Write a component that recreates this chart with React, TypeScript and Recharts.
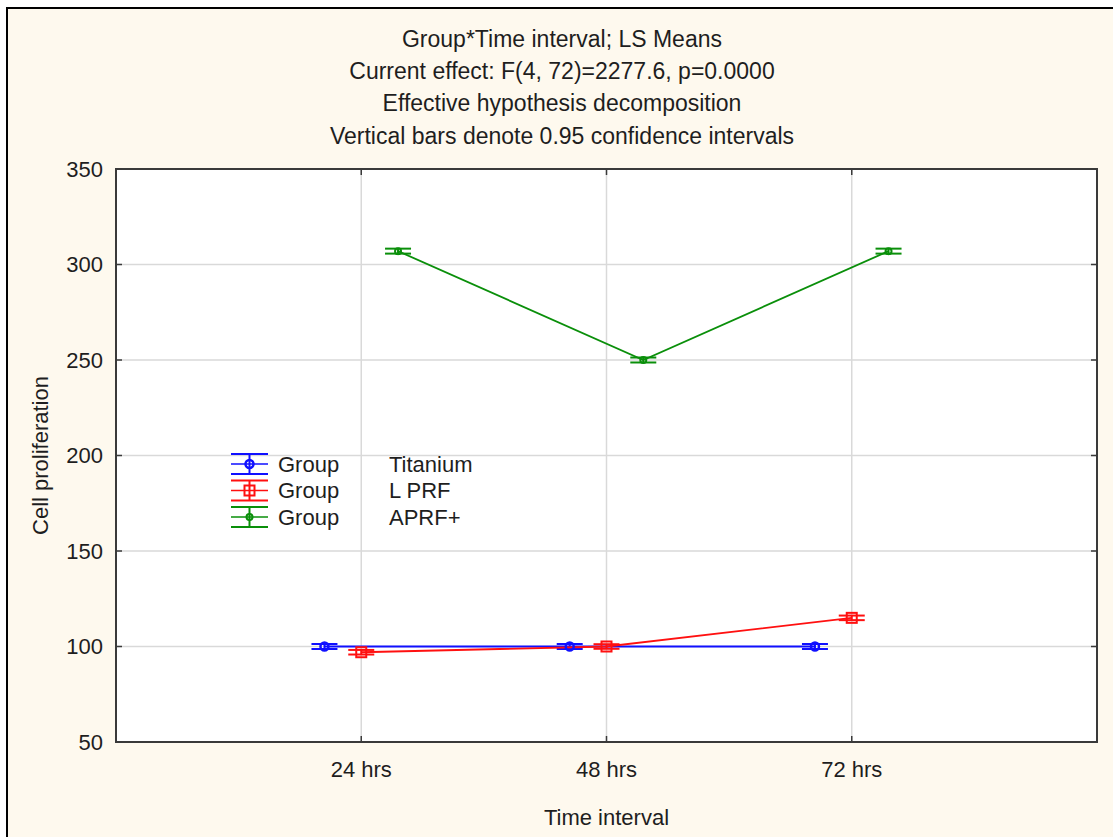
import { CartesianGrid, ErrorBar, Legend, Line, LineChart, ReferenceArea, XAxis, YAxis } from 'recharts'

const TIMES = ['24 hrs', '48 hrs', '72 hrs']
const TITANIUM = [100, 100, 100]
const TITANIUM_CI = [1.3, 1.3, 1.3]
const LPRF = [97, 100, 115]
const LPRF_CI = [1.2, 1.2, 1.2]
const APRF = [307, 250, 307]
const APRF_CI = [1.3, 1.3, 1.3]
const Y_TICKS = [50, 100, 150, 200, 250, 300, 350]
const TITLE = [
  'Group*Time interval; LS Means',
  'Current effect: F(4, 72)=2277.6, p=0.0000',
  'Effective hypothesis decomposition',
  'Vertical bars denote 0.95 confidence intervals',
]

const FONT = '"Liberation Sans", Arial, sans-serif'
const INK = '#1e1e1e'
const FRAME = '#3a3a3a'

type Shape = 'circle' | 'square' | 'dot'

// groups are nudged sideways around each time point, like Statistica does
const SERIES: Array<{ name: string; color: string; shape: Shape; shift: number; values: number[]; ci: number[] }> = [
  { name: 'Titanium', color: '#1010ff', shape: 'circle', shift: -0.15, values: TITANIUM, ci: TITANIUM_CI },
  { name: 'L PRF', color: '#ff1010', shape: 'square', shift: 0, values: LPRF, ci: LPRF_CI },
  { name: 'APRF+', color: '#0a8f0a', shape: 'dot', shift: 0.15, values: APRF, ci: APRF_CI },
]

function Marker({ cx, cy, color, shape }: { cx: number; cy: number; color: string; shape: Shape }) {
  if (shape === 'square') return <rect x={cx - 5} y={cy - 5} width={10} height={10} fill="none" stroke={color} strokeWidth={2} />
  if (shape === 'circle') return <circle cx={cx} cy={cy} r={4} fill="none" stroke={color} strokeWidth={2.5} />
  return <circle cx={cx} cy={cy} r={3} fill="none" stroke={color} strokeWidth={2} />
}

// tick marks point into the plot on all four sides
const XTick = ({ x, y, payload }: any) => (
  <g>
    <line x1={x} x2={x} y1={y} y2={y - 6} stroke={FRAME} strokeWidth={1.5} />
    <line x1={x} x2={x} y1={160} y2={166} stroke={FRAME} strokeWidth={1.5} />
    <text x={x} y={y + 35} textAnchor="middle" fontSize={22} fontFamily={FONT} fill={INK}>
      {TIMES[payload.value - 1]}
    </text>
  </g>
)

const YTick = ({ x, y, payload }: any) => (
  <g>
    <line x1={x} x2={x + 6} y1={y} y2={y} stroke={FRAME} strokeWidth={1.5} />
    <line x1={1089} x2={1083} y1={y} y2={y} stroke={FRAME} strokeWidth={1.5} />
    <text x={x - 13} y={y} dy="0.36em" textAnchor="end" fontSize={22} fontFamily={FONT} fill={INK}>
      {payload.value}
    </text>
  </g>
)

function GroupLegend() {
  return (
    <svg width={280} height={90} style={{ display: 'block' }}>
      {SERIES.map((s, i) => {
        const cy = 15 + i * 26.5
        return (
          <g key={s.name}>
            <line x1={0} x2={37} y1={cy - 10} y2={cy - 10} stroke={s.color} strokeWidth={2} />
            <line x1={0} x2={37} y1={cy + 10} y2={cy + 10} stroke={s.color} strokeWidth={2} />
            <line x1={18.5} x2={18.5} y1={cy - 10} y2={cy + 10} stroke={s.color} strokeWidth={2} />
            <line x1={0} x2={37} y1={cy} y2={cy} stroke={s.color} strokeWidth={1.5} />
            <Marker cx={18.5} cy={cy} color={s.color} shape={s.shape} />
            <text x={47} y={cy} dy="0.36em" fontSize={22} fontFamily={FONT} fill={INK}>Group</text>
            <text x={158} y={cy} dy="0.36em" fontSize={22} fontFamily={FONT} fill={INK}>{s.name}</text>
          </g>
        )
      })}
    </svg>
  )
}

export default function App() {
  return (
    <div
      style={{
        position: 'absolute',
        left: 6,
        top: 7,
        width: 1107,
        height: 830,
        boxSizing: 'border-box',
        borderLeft: '2px solid #000',
        borderTop: '2px solid #000',
        background: '#fef9ee',
        fontFamily: FONT,
      }}
    >
      <div
        style={{
          position: 'absolute',
          top: 14,
          left: 0,
          width: 1108,
          textAlign: 'center',
          fontSize: 23,
          lineHeight: '32.2px',
          color: INK,
        }}
      >
        {TITLE.map((t) => (
          <div key={t}>{t}</div>
        ))}
      </div>
      <LineChart width={1105} height={828} margin={{ top: 160, right: 16, bottom: 0, left: 0 }}>
        <CartesianGrid stroke="#d9d9d9" strokeWidth={1.5} fill="#ffffff" />
        <XAxis
          type="number"
          dataKey="x"
          domain={[0, 4]}
          ticks={[1, 2, 3]}
          height={95}
          tickSize={0}
          tickMargin={0}
          axisLine={false}
          tick={<XTick />}
          label={{
            content: ({ viewBox }: any) => (
              <text x={viewBox.x + viewBox.width / 2} y={viewBox.y + 83} textAnchor="middle" fontSize={22} fontFamily={FONT} fill={INK}>
                Time interval
              </text>
            ),
          }}
        />
        <YAxis
          type="number"
          domain={[50, 350]}
          ticks={Y_TICKS}
          width={108}
          tickSize={0}
          tickMargin={0}
          axisLine={false}
          tick={<YTick />}
          label={{
            content: ({ viewBox }: any) => {
              const cx = 32
              const cy = viewBox.y + viewBox.height / 2
              return (
                <text x={cx} y={cy} dy="0.36em" transform={`rotate(-90 ${cx} ${cy})`} textAnchor="middle" fontSize={22} fontFamily={FONT} fill={INK}>
                  Cell proliferation
                </text>
              )
            },
          }}
        />
        <ReferenceArea x1={0} x2={4} y1={50} y2={350} fill="none" stroke={FRAME} strokeWidth={2} ifOverflow="visible" />
        <Legend
          layout="vertical"
          align="center"
          verticalAlign="middle"
          wrapperStyle={{ position: 'absolute', left: 223, top: 440, width: 280 }}
          content={() => <GroupLegend />}
        />
        {SERIES.map((s) => (
          <Line
            key={s.name}
            name={s.name}
            data={s.values.map((v, i) => ({ x: i + 1 + s.shift, y: v, err: s.ci[i] }))}
            dataKey="y"
            stroke={s.color}
            strokeWidth={1.8}
            isAnimationActive={false}
            dot={(p: any) => <Marker key={p.index} cx={p.cx} cy={p.cy} color={s.color} shape={s.shape} />}
            activeDot={false}
          >
            <ErrorBar dataKey="err" direction="y" width={13} stroke={s.color} strokeWidth={2} isAnimationActive={false} />
          </Line>
        ))}
      </LineChart>
    </div>
  )
}
